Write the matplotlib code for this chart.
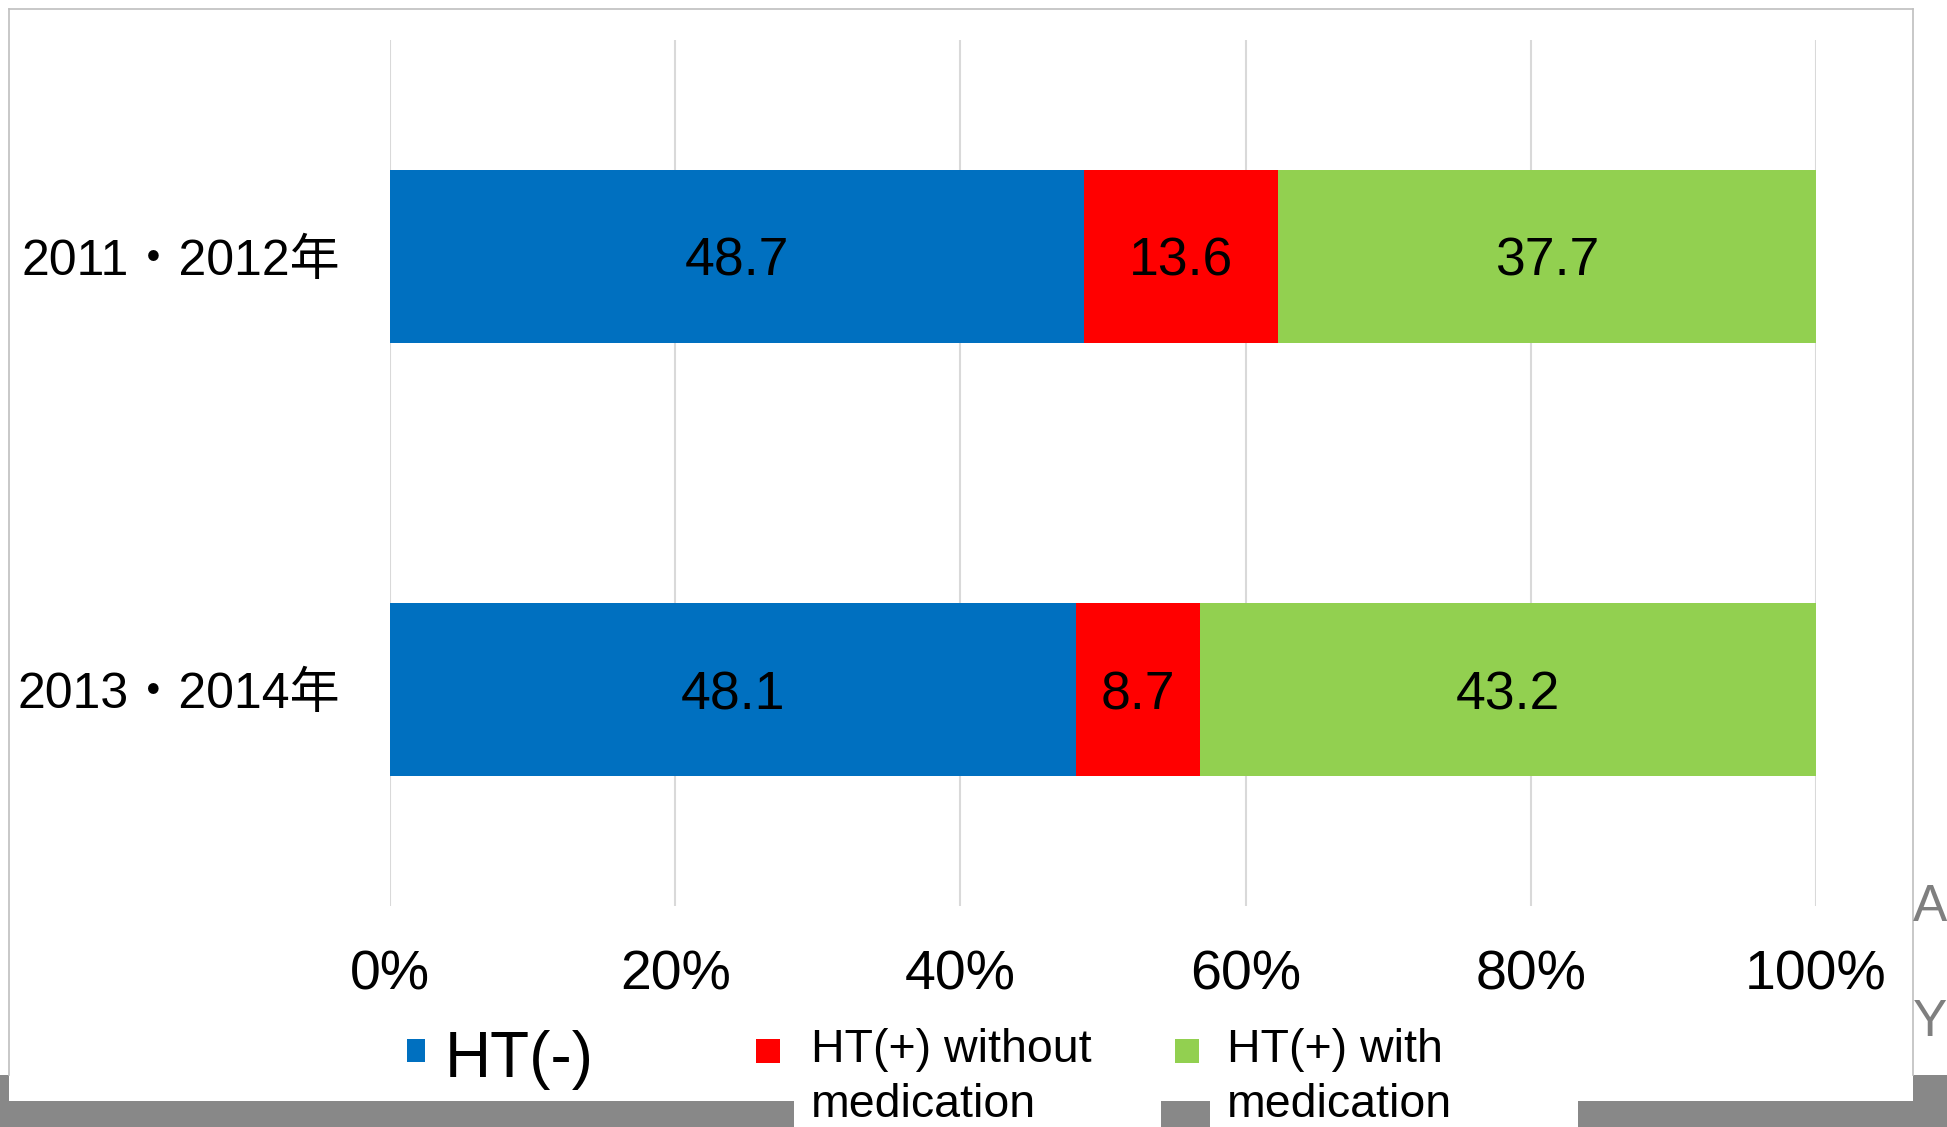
import matplotlib
matplotlib.use("Agg")
import matplotlib.pyplot as plt
from matplotlib.patches import Rectangle
import numpy as np

plt.rcParams['font.family'] = ['Liberation Sans', 'Noto Sans CJK JP', 'DejaVu Sans']

# Data
periods = ['2011・2012年', '2013・2014年']
series_names = ['HT(-)', 'HT(+) without\nmedication', 'HT(+) with\nmedication']
ht_neg = [48.7, 48.1]
ht_pos_no_med = [13.6, 8.7]
ht_pos_med = [37.7, 43.2]
series_values = [ht_neg, ht_pos_no_med, ht_pos_med]
colors = ['#0070C0', '#FF0000', '#92D050']
x_ticks = [0, 20, 40, 60, 80, 100]
x_tick_labels = [f'{t}%' for t in x_ticks]

W, H = 1947, 1127
fig = plt.figure(figsize=(W / 100, H / 100), dpi=100)
fig.patch.set_facecolor('white')

# Page background layer in pixel coordinates (y grows downward)
bg = fig.add_axes([0, 0, 1, 1], zorder=0)
bg.set_xlim(0, W)
bg.set_ylim(H, 0)
bg.axis('off')
bg.add_patch(Rectangle((0, 1075), W, 52, facecolor='#888888', edgecolor='none', zorder=1))
bg.add_patch(Rectangle((9, 9), 1904, 1092, facecolor='white', edgecolor='none', zorder=2))
bg.add_patch(Rectangle((794, 1075), 367, 52, facecolor='white', edgecolor='none', zorder=2))
bg.add_patch(Rectangle((1210, 1075), 368, 52, facecolor='white', edgecolor='none', zorder=2))
bg.plot([9, 9], [1075, 9], color='#bfbfbf', lw=1.2, zorder=3)
bg.plot([9, 1912.5], [9, 9], color='#bfbfbf', lw=1.2, zorder=3)
bg.plot([1912.5, 1912.5], [9, 1075], color='#bfbfbf', lw=1.2, zorder=3)
bg.text(1913, 921, 'A', fontsize=37, color='#7f7f7f', va='baseline', ha='left', zorder=3)
bg.text(1913, 1036, 'Y', fontsize=37, color='#7f7f7f', va='baseline', ha='left', zorder=3)

# Main chart
ax = fig.add_axes([390 / W, (H - 906) / H, (1816 - 390) / W, (906 - 40) / H], zorder=1)
ax.set_facecolor('none')
y = np.arange(len(periods))
left = np.zeros(len(periods))
for vals, color in zip(series_values, colors):
    bars = ax.barh(y, vals, left=left, height=0.4, color=color, edgecolor='none', zorder=2)
    labels = ax.bar_label(bars, fmt='%.1f', label_type='center', fontsize=38.5, color='black')
    for t in labels:
        t.set_verticalalignment('center_baseline')
    left += np.array(vals)

ax.set_xlim(0, 100)
ax.set_ylim(1.5, -0.5)
ax.set_xticks(x_ticks)
ax.set_xticklabels(x_tick_labels, fontsize=40)
ax.set_yticks(y)
ax.set_yticklabels(periods, fontsize=36)
ax.tick_params(axis='x', length=0, pad=31)
ax.tick_params(axis='y', length=0, pad=36)
ax.grid(axis='x', color='#d9d9d9', lw=1.5, zorder=0)
ax.set_axisbelow(True)
for s in ax.spines.values():
    s.set_visible(False)

# Legend
leg = fig.add_axes([0, 0, 1, 1], zorder=2)
leg.set_xlim(0, W)
leg.set_ylim(H, 0)
leg.axis('off')
legend_layout = [
    # marker x, marker w, marker h, text x, first baseline, font size
    (407, 18, 23, 445, 1077, 46),
    (756, 24, 24, 811, 1062, 33.5),
    (1175, 24, 24, 1227, 1062, 33.5),
]
for name, color, (mx, mw, mh, tx, base, fs) in zip(series_names, colors, legend_layout):
    leg.add_patch(Rectangle((mx, 1039), mw, mh, facecolor=color, edgecolor='none'))
    for i, line in enumerate(name.split('\n')):
        leg.text(tx, base + i * 55, line, fontsize=fs, va='baseline', ha='left', color='black')

fig.savefig('out.png', dpi=100, facecolor='white')
